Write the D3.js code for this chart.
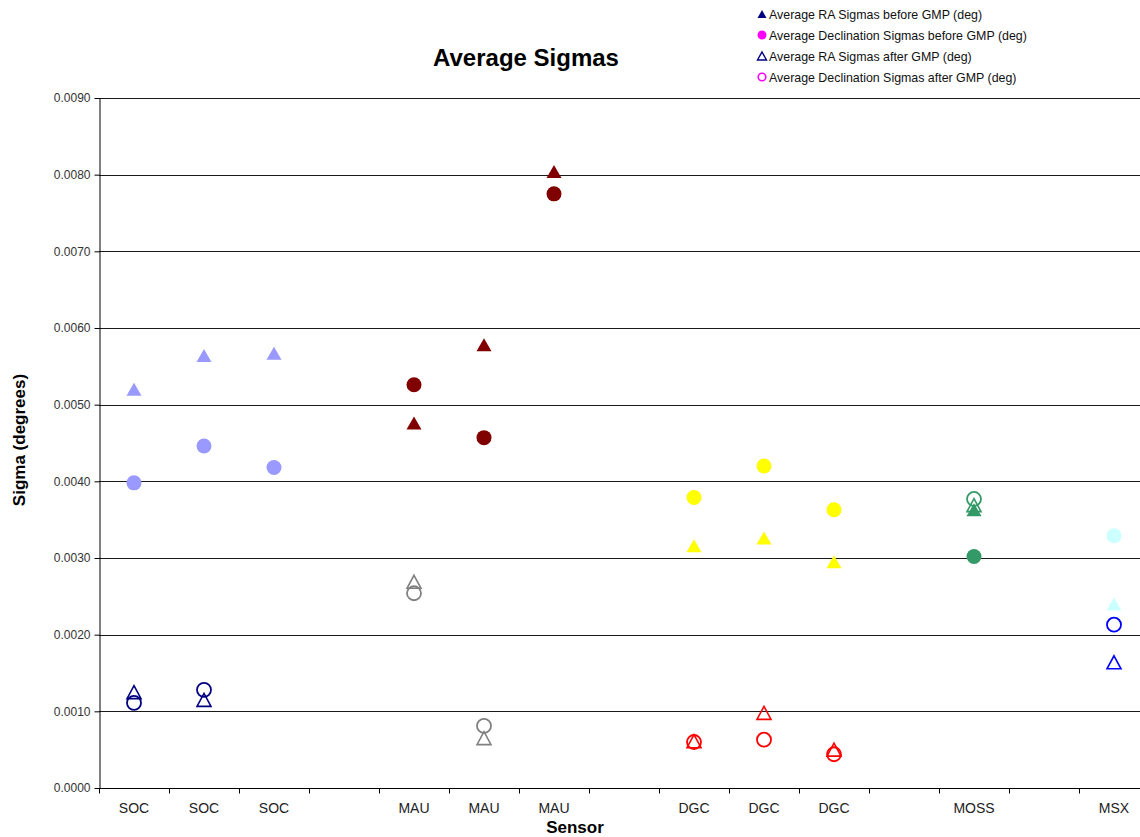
<!DOCTYPE html>
<html>
<head>
<meta charset="utf-8">
<script src="https://cdn.jsdelivr.net/npm/d3@7"></script>
<style>
  html, body { margin: 0; padding: 0; background: #fff; overflow: hidden; }
  text { font-family: "Liberation Sans", Arial, sans-serif; }
</style>
</head>
<body>
<svg id="chart" width="1140" height="837"></svg>
<script>
// Sensor slots along the x axis; empty strings are spacer slots between sensor groups
const categories = ["SOC", "SOC", "SOC", "", "MAU", "MAU", "MAU", "", "DGC", "DGC", "DGC", "", "MOSS", "", "MSX"];

// Average sigmas (degrees) per slot
const raBefore  = [0.00520, 0.00564, 0.00567, null, 0.00476, 0.00578, 0.00804, null, 0.00316, 0.00326, 0.00295, null, 0.00363, null, 0.00240];
const decBefore = [0.00398, 0.00446, 0.00418, null, 0.00526, 0.00457, 0.00775, null, 0.00379, 0.00420, 0.00363, null, 0.00302, null, 0.00329];
const raAfter   = [0.00125, 0.00115, null,    null, 0.00269, 0.00065, null,    null, 0.00061, 0.00098, 0.00050, null, 0.00369, null, 0.00164];
const decAfter  = [0.00111, 0.00128, null,    null, 0.00254, 0.00081, null,    null, 0.00060, 0.00063, 0.00044, null, 0.00377, null, 0.00213];

// Marker colours per slot (before / after GMP)
const beforeColors = ["#9999FF", "#9999FF", "#9999FF", null, "#800000", "#800000", "#800000", null, "#FFFF00", "#FFFF00", "#FFFF00", null, "#339966", null, "#CCFFFF"];
const afterColors  = ["#000080", "#000080", "#000080", null, "#808080", "#808080", "#808080", null, "#FF0000", "#FF0000", "#FF0000", null, "#339966", null, "#0000FF"];

const yTicks = [0, 0.001, 0.002, 0.003, 0.004, 0.005, 0.006, 0.007, 0.008, 0.009];

const legendItems = [
  { label: "Average RA Sigmas before GMP (deg)", shape: "triangle", filled: true, color: "#000080" },
  { label: "Average Declination Sigmas before GMP (deg)", shape: "circle", filled: true, color: "#FF00FF" },
  { label: "Average RA Sigmas after GMP (deg)", shape: "triangle", filled: false, color: "#000080" },
  { label: "Average Declination Sigmas after GMP (deg)", shape: "circle", filled: false, color: "#FF00FF" }
];

const svg = d3.select("#chart");
const plot = { left: 99, right: 1149, top: 98, bottom: 788 };

const x = d3.scaleBand()
  .domain(d3.range(categories.length))
  .range([plot.left, plot.right])
  .paddingInner(0).paddingOuter(0);

const y = d3.scaleLinear().domain([0, 0.009]).range([plot.bottom, plot.top]);

// Horizontal gridlines
svg.append("g")
  .selectAll("line")
  .data(yTicks.filter(d => d > 0))
  .join("line")
  .attr("x1", plot.left).attr("x2", plot.right)
  .attr("y1", d => Math.round(y(d)) + 0.5).attr("y2", d => Math.round(y(d)) + 0.5)
  .attr("stroke", "#1a1a1a").attr("stroke-width", 1);

// Y axis
const yAxis = svg.append("g")
  .attr("transform", `translate(${plot.left + 0.5},0)`)
  .call(d3.axisLeft(y).tickValues(yTicks).tickFormat(d3.format(".4f")).tickSize(5).tickSizeOuter(0));
yAxis.select(".domain").attr("stroke", "#000");
yAxis.selectAll(".tick line").attr("stroke", "#000");
yAxis.selectAll(".tick text").attr("font-size", 12).attr("fill", "#333").attr("x", -9)
  .style("font-family", "'Liberation Sans', Arial, sans-serif");

// X axis: ticks on slot boundaries, labels at slot centres
const xAxisG = svg.append("g").attr("transform", `translate(0,${plot.bottom + 0.5})`);
xAxisG.append("line")
  .attr("x1", plot.left).attr("x2", plot.right)
  .attr("stroke", "#000");
xAxisG.selectAll("line.tick")
  .data(d3.range(categories.length + 1))
  .join("line").attr("class", "tick")
  .attr("x1", i => Math.round(plot.left + i * x.bandwidth()) + 0.5)
  .attr("x2", i => Math.round(plot.left + i * x.bandwidth()) + 0.5)
  .attr("y1", 0).attr("y2", 5)
  .attr("stroke", "#000");
xAxisG.selectAll("text")
  .data(categories)
  .join("text")
  .attr("x", (d, i) => x(i) + x.bandwidth() / 2)
  .attr("y", 24)
  .attr("text-anchor", "middle")
  .attr("font-size", 14)
  .attr("fill", "#222")
  .text(d => d);

// Marker shapes
function trianglePath(cx, cy, w, h) {
  return `M${cx},${cy - h / 2}L${cx + w / 2},${cy + h / 2}L${cx - w / 2},${cy + h / 2}Z`;
}

function drawMarkers(values, colors, shape, filled) {
  const pts = values.map((v, i) => ({ v, i, c: colors[i] })).filter(d => d.v != null);
  const g = svg.append("g");
  if (shape === "circle") {
    g.selectAll("circle").data(pts).join("circle")
      .attr("cx", d => x(d.i) + x.bandwidth() / 2)
      .attr("cy", d => y(d.v))
      .attr("r", filled ? 7.5 : 7)
      .attr("fill", d => filled ? d.c : "none")
      .attr("stroke", d => d.c)
      .attr("stroke-width", filled ? 0 : 1.8);
  } else {
    g.selectAll("path").data(pts).join("path")
      .attr("d", d => trianglePath(x(d.i) + x.bandwidth() / 2, y(d.v), filled ? 15 : 14, 13))
      .attr("fill", d => filled ? d.c : "none")
      .attr("stroke", d => d.c)
      .attr("stroke-width", filled ? 0 : 1.6)
      .attr("stroke-linejoin", "miter");
  }
}

drawMarkers(raBefore, beforeColors, "triangle", true);
drawMarkers(decBefore, beforeColors, "circle", true);
drawMarkers(raAfter, afterColors, "triangle", false);
drawMarkers(decAfter, afterColors, "circle", false);

// Title and axis titles
svg.append("text")
  .attr("x", 526).attr("y", 66)
  .attr("text-anchor", "middle")
  .attr("font-size", 24).attr("font-weight", "bold")
  .text("Average Sigmas");

svg.append("text")
  .attr("x", 575).attr("y", 833)
  .attr("text-anchor", "middle")
  .attr("font-size", 17).attr("font-weight", "bold")
  .text("Sensor");

svg.append("text")
  .attr("transform", "translate(25,440) rotate(-90)")
  .attr("text-anchor", "middle")
  .attr("font-size", 17).attr("font-weight", "bold")
  .text("Sigma (degrees)");

// Legend
const legend = svg.append("g").attr("transform", "translate(762,14)");
legendItems.forEach((d, i) => {
  const g = legend.append("g").attr("transform", `translate(0,${i * 21})`);
  if (d.shape === "triangle") {
    g.append("path").attr("d", trianglePath(0, 0, 9, 8))
      .attr("fill", d.filled ? d.color : "none")
      .attr("stroke", d.color).attr("stroke-width", d.filled ? 0 : 1.4);
  } else {
    g.append("circle").attr("r", d.filled ? 4.5 : 3.8)
      .attr("fill", d.filled ? d.color : "none")
      .attr("stroke", d.color).attr("stroke-width", d.filled ? 0 : 1.6);
  }
  g.append("text").attr("x", 7).attr("y", 4.5)
    .attr("font-size", 12.4).attr("fill", "#111")
    .text(d.label);
});
</script>
</body>
</html>
